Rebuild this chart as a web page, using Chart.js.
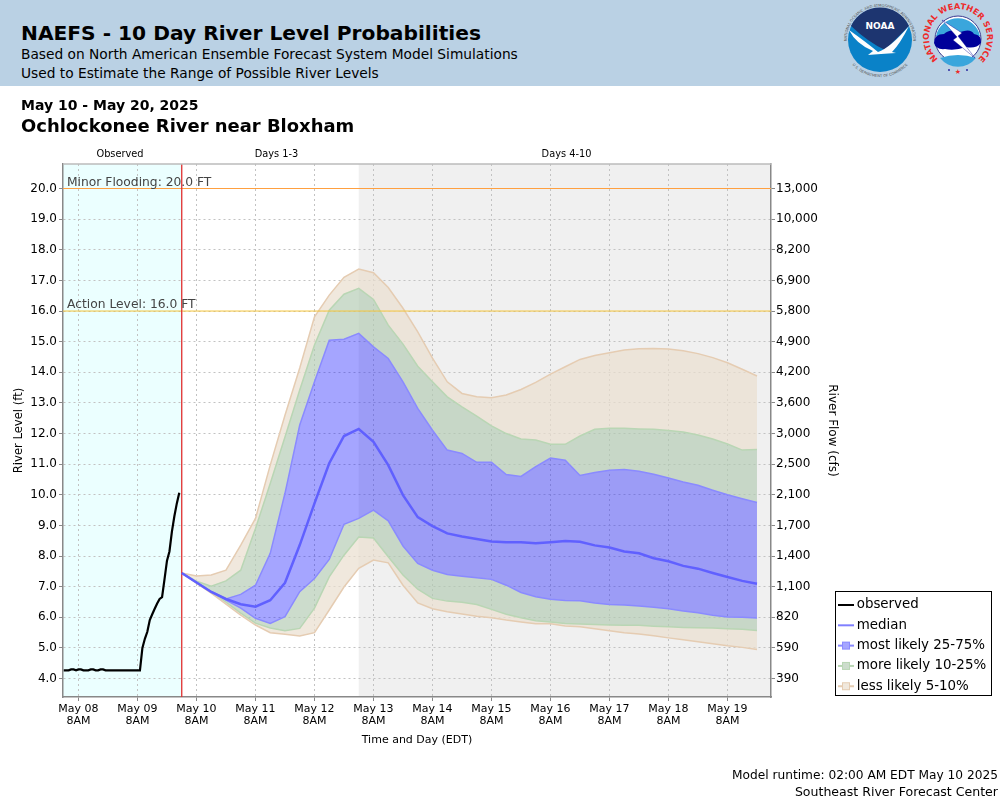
<!DOCTYPE html>
<html>
<head>
<meta charset="utf-8">
<title>NAEFS - 10 Day River Level Probabilities</title>
<script src="https://cdn.jsdelivr.net/npm/chart.js@4/dist/chart.umd.min.js"></script>
<style>
  html, body { margin: 0; padding: 0; background: #fff; }
  body { width: 1000px; height: 800px; position: relative; overflow: hidden; font-family: "DejaVu Sans", sans-serif; color: #000; }
  #band { position: absolute; left: 0; top: 0; width: 1000px; height: 86px; background: #bad1e4; }
  .txt { position: absolute; white-space: nowrap; }
  #logos { position: absolute; left: 0; top: 0; }
  canvas { position: absolute; left: 0; top: 0; }
</style>
</head>
<body>
<canvas id="myChart" width="1000" height="800"></canvas>
<div id="band"></div>
<div class="txt" style="left:21px;top:21px;font-size:20.2px;font-weight:bold;">NAEFS - 10 Day River Level Probabilities</div>
<div class="txt" style="left:21px;top:46px;font-size:13.76px;">Based on North American Ensemble Forecast System Model Simulations</div>
<div class="txt" style="left:21px;top:65px;font-size:13.76px;">Used to Estimate the Range of Possible River Levels</div>
<div class="txt" style="left:21px;top:97px;font-size:14px;font-weight:bold;">May 10 - May 20, 2025</div>
<div class="txt" style="left:21px;top:115px;font-size:17.95px;font-weight:bold;">Ochlockonee River near Bloxham</div>
<div class="txt" style="right:2px;top:768px;font-size:12.2px;">Model runtime: 02:00 AM EDT May 10 2025</div>
<div class="txt" style="right:2px;top:784px;font-size:12.55px;">Southeast River Forecast Center</div>

<svg id="logos" width="1000" height="86" xmlns="http://www.w3.org/2000/svg">
  <defs>
    <path id="noaaRing" d="M 852 58 A 33.3 33.3 0 1 1 908 58"></path>
    <path id="noaaRingLow" d="M 850 62 A 37.2 37.2 0 0 0 910 62"></path>
    <path id="nwsRing" d="M 941.4 61.8 A 29 29 0 1 1 974.6 61.8"></path>
  </defs>
  <circle cx="880" cy="40" r="32" fill="#0a82c8"></circle>
  <path d="M 851 26 A 32 32 0 0 1 909 26 L 885 50 Q 868 42 851 26 Z" fill="#1d3570"></path>
  <path d="M 849 30 Q 866 42 878 52 Q 890 48 909 26 Q 900 44 892 52 L 896 53 Q 880 54 868 55 L 873 51 Q 856 44 849 30 Z" fill="#fdfdfd"></path>
  <text x="880" y="29" text-anchor="middle" font-size="9" font-weight="bold" fill="#fff">NOAA</text>
  <text font-size="3.7" fill="#555" text-anchor="middle"><textPath href="#noaaRing" startOffset="50%">NATIONAL OCEANIC AND ATMOSPHERIC ADMINISTRATION</textPath></text>
  <text font-size="3.7" fill="#555" text-anchor="middle"><textPath href="#noaaRingLow" startOffset="50%">U.S. DEPARTMENT OF COMMERCE</textPath></text>

  <circle cx="958" cy="39" r="23" fill="#fff" stroke="#3a3a90" stroke-width="1"></circle>
  <path d="M 936 36 A 22.5 22.5 0 0 1 980 36 Z" fill="#3aa6dc"></path>
  <path d="M 940 58 A 23 23 0 0 0 976 58 Q 958 52 940 58 Z" fill="#3aa6dc"></path>
  <path d="M 934 43 Q 934 34 944 34 Q 950 28 960 32 Q 971 28 974 34 Q 982 35 981 43 Q 976 49 966 47 Q 955 51 945 49 Q 936 50 934 43 Z" fill="#00009a"></path>
  <path d="M 942 20 L 962 33 L 958 36 L 975 58 L 953 40 L 957 37 Z" fill="#fff" stroke="#00009a" stroke-width=".4"></path>
  <text font-size="8.2" font-weight="bold" fill="#ee2a2a" text-anchor="middle" letter-spacing=".1"><textPath href="#nwsRing" startOffset="50%">NATIONAL WEATHER SERVICE</textPath></text>
  <circle cx="949" cy="70" r="1" fill="#2a2aa0"></circle>
  <circle cx="967" cy="70" r="1" fill="#2a2aa0"></circle>
  <text x="958" y="74" font-size="7" fill="#ee2a2a" text-anchor="middle">&#9733;</text>
</svg>

<script>
// axis ranges, x is hours after May 08 8AM
const xMin = -6.3;
const xMax = 281.7;
const yMin = 3.4;
const yMax = 20.8;

const xTickHours = [0, 24, 48, 72, 96, 120, 144, 168, 192, 216, 240, 264];
const xTickDays = ['May 08', 'May 09', 'May 10', 'May 11', 'May 12', 'May 13', 'May 14', 'May 15', 'May 16', 'May 17', 'May 18', 'May 19'];
const stageTicks = [4, 5, 6, 7, 8, 9, 10, 11, 12, 13, 14, 15, 16, 17, 18, 19, 20];
const flowTicks = ['390', '590', '820', '1,100', '1,400', '1,700', '2,100', '2,500', '3,000', '3,600', '4,200', '4,900', '5,800', '6,900', '8,200', '10,000', '13,000'];

const obsHours = [-6, -5, -4, -3, -2, -1, 0, 1, 2, 3, 4, 5, 6, 7, 8, 9, 10, 11, 12, 13, 14, 15, 16, 17, 18, 19, 20, 21, 22, 23, 24, 25, 26, 27, 28, 29, 30, 31, 32, 33, 34, 35, 36, 37, 38, 39, 40, 41];
const observed = [4.27, 4.27, 4.27, 4.30, 4.30, 4.27, 4.30, 4.30, 4.27, 4.27, 4.27, 4.30, 4.30, 4.27, 4.27, 4.30, 4.30, 4.27, 4.27, 4.27, 4.27, 4.27, 4.27, 4.27, 4.27, 4.27, 4.27, 4.27, 4.27, 4.27, 4.27, 4.27, 5.00, 5.30, 5.53, 5.91, 6.10, 6.28, 6.45, 6.60, 6.66, 7.25, 7.85, 8.15, 8.80, 9.30, 9.72, 10.07];

const fcstHours = [42, 48, 54, 60, 66, 72, 78, 84, 90, 96, 102, 108, 114, 120, 126, 132, 138, 144, 150, 156, 162, 168, 174, 180, 186, 192, 198, 204, 210, 216, 222, 228, 234, 240, 246, 252, 258, 264, 270, 276];
const p05 = [7.45, 7.12, 6.79, 6.43, 6.07, 5.75, 5.50, 5.45, 5.39, 5.50, 6.24, 6.99, 7.60, 7.87, 7.78, 7.05, 6.47, 6.28, 6.18, 6.11, 6.04, 5.99, 5.91, 5.85, 5.79, 5.79, 5.72, 5.69, 5.63, 5.56, 5.50, 5.46, 5.40, 5.33, 5.27, 5.20, 5.14, 5.07, 5.02, 4.95];
const p10 = [7.45, 7.13, 6.82, 6.50, 6.14, 5.81, 5.65, 5.56, 5.64, 6.30, 7.32, 8.03, 8.62, 8.59, 7.98, 7.38, 6.92, 6.62, 6.53, 6.49, 6.42, 6.26, 6.10, 5.99, 5.89, 5.85, 5.80, 5.78, 5.77, 5.75, 5.74, 5.74, 5.71, 5.69, 5.67, 5.66, 5.65, 5.63, 5.61, 5.57];
const p25 = [7.45, 7.14, 6.83, 6.56, 6.30, 5.97, 5.80, 6.02, 6.84, 7.27, 7.89, 9.04, 9.23, 9.50, 9.15, 8.33, 7.76, 7.54, 7.40, 7.34, 7.29, 7.24, 7.05, 6.81, 6.67, 6.59, 6.55, 6.54, 6.47, 6.42, 6.40, 6.37, 6.33, 6.28, 6.21, 6.15, 6.07, 6.01, 6.00, 5.98];
const median = [7.45, 7.14, 6.83, 6.60, 6.43, 6.35, 6.56, 7.13, 8.36, 9.72, 11.03, 11.92, 12.15, 11.73, 10.97, 9.99, 9.27, 8.98, 8.74, 8.64, 8.56, 8.48, 8.45, 8.45, 8.42, 8.45, 8.49, 8.47, 8.35, 8.28, 8.15, 8.09, 7.93, 7.83, 7.68, 7.59, 7.45, 7.32, 7.19, 7.10];
const p75 = [7.45, 7.14, 6.85, 6.60, 6.75, 7.05, 8.09, 10.05, 12.28, 13.69, 15.05, 15.08, 15.27, 14.83, 14.45, 13.69, 12.82, 12.11, 11.46, 11.35, 11.06, 11.06, 10.66, 10.60, 10.92, 11.20, 11.13, 10.63, 10.73, 10.80, 10.83, 10.77, 10.67, 10.55, 10.42, 10.31, 10.15, 10.00, 9.87, 9.75];
const p90 = [7.45, 7.18, 7.02, 7.19, 7.54, 8.90, 10.37, 11.89, 13.42, 14.89, 16.03, 16.55, 16.74, 16.38, 15.54, 14.92, 14.20, 13.69, 13.20, 12.87, 12.57, 12.25, 12.00, 11.82, 11.79, 11.65, 11.65, 11.92, 12.14, 12.17, 12.17, 12.15, 12.14, 12.10, 12.05, 11.95, 11.82, 11.66, 11.46, 11.48];
const p95 = [7.45, 7.35, 7.38, 7.54, 8.36, 9.23, 10.97, 12.60, 14.14, 15.81, 16.52, 17.10, 17.37, 17.25, 16.77, 16.09, 15.32, 14.46, 13.69, 13.31, 13.20, 13.17, 13.26, 13.44, 13.67, 13.94, 14.18, 14.42, 14.55, 14.64, 14.73, 14.77, 14.78, 14.76, 14.70, 14.61, 14.48, 14.31, 14.10, 13.88];

const forecastStartHour = 42;
const days4to10Hour = 114;
const minorFlood = 20;
const actionLevel = 16;

const tanLine = '#e5ccb2', tanFill = 'rgba(234,222,206,0.7)';
const greenLine = '#b9d6b4', greenFill = 'rgba(177,201,177,0.65)';
const blueLine = '#8a8aff', blueFill = 'rgba(30,30,255,0.4)';

function zip(xs, ys){
  return ys.map((y, i) => ({x: xs[i], y: y}));
}

function bandSet(label, values, color, fillColor){
  return {
    label: label,
    data: zip(fcstHours, values),
    borderColor: color,
    borderWidth: 1.5,
    backgroundColor: fillColor || 'transparent',
    fill: fillColor ? '-1' : false,
    pointRadius: 0,
    tension: 0
  };
}

// little line with a square on it, for the legend
function legendSymbol(lineColor, boxFill, boxEdge){
  const c = document.createElement('canvas');
  c.width = 20; c.height = 12;
  const g = c.getContext('2d');
  g.strokeStyle = lineColor;
  g.lineWidth = 2;
  g.beginPath(); g.moveTo(4, 6); g.lineTo(20, 6); g.stroke();
  if(boxFill){
    g.fillStyle = '#fff'; g.fillRect(8, 2, 8, 8);
    g.fillStyle = boxFill; g.fillRect(8, 2, 8, 8);
    g.strokeStyle = boxEdge; g.lineWidth = 1; g.strokeRect(8.5, 2.5, 7, 7);
  }
  return c;
}

const legendItems = [
  {text: 'observed', pointStyle: legendSymbol('#000')},
  {text: 'median', pointStyle: legendSymbol('#8080ff')},
  {text: 'most likely 25-75%', pointStyle: legendSymbol(blueLine, blueFill, blueLine)},
  {text: 'more likely 10-25%', pointStyle: legendSymbol(greenLine, greenFill, greenLine)},
  {text: 'less likely 5-10%', pointStyle: legendSymbol(tanLine, tanFill, tanLine)}
];

const chartDecor = {
  id: 'chartDecor',
  beforeDraw(chart){
    const {ctx, chartArea: a, scales} = chart;
    const xNow = scales.x.getPixelForValue(forecastStartHour);
    const xGrey = scales.x.getPixelForValue(days4to10Hour);
    ctx.save();
    ctx.fillStyle = '#ebffff';
    ctx.fillRect(a.left, a.top, xNow - a.left, a.height);
    ctx.fillStyle = '#f0f0f0';
    ctx.fillRect(xGrey, a.top, a.right - xGrey, a.height);
    ctx.restore();
  },
  afterLayout(chart){
    // legend sits outside the plot, bottom right
    const lg = chart.legend;
    lg.left = 831.1; lg.right = 995;
    lg.top = 591.4; lg.bottom = 705;
  },
  afterDraw(chart){
    const {ctx, chartArea: a, scales} = chart;
    ctx.save();
    ctx.strokeStyle = '#bbb';
    ctx.lineWidth = 1.5;
    ctx.beginPath(); ctx.moveTo(a.left, a.top); ctx.lineTo(a.right, a.top); ctx.stroke();

    ctx.font = '12.3px "DejaVu Sans"';
    ctx.fillStyle = '#444';
    ctx.textAlign = 'left';
    ctx.textBaseline = 'alphabetic';
    ctx.fillText('Minor Flooding: 20.0 FT', 67, scales.y.getPixelForValue(minorFlood) - 3);
    ctx.fillText('Action Level: 16.0 FT', 67, scales.y.getPixelForValue(actionLevel) - 3);

    ctx.font = '9.8px "DejaVu Sans"';
    ctx.fillStyle = '#000';
    ctx.textAlign = 'center';
    ctx.fillText('Observed', 120, 157);
    ctx.fillText('Days 1-3', 276.5, 157);
    ctx.fillText('Days 4-10', 566.5, 157);

    ctx.strokeStyle = '#000';
    ctx.lineWidth = 1;
    ctx.strokeRect(835.5, 591.5, 156, 104);
    ctx.restore();
  }
};

const ctx = document.getElementById('myChart').getContext('2d');
const riverChart = new Chart(ctx, {
  type: 'line',
  data: {
    datasets: [
      {label: 'observed', data: zip(obsHours, observed), borderColor: '#000', borderWidth: 2.2, pointRadius: 0, tension: 0},
      {label: 'median', data: zip(fcstHours, median), borderColor: '#6060ff', borderWidth: 2.5, pointRadius: 0, tension: 0},
      {label: 'now', data: zip([forecastStartHour, forecastStartHour], [yMin, yMax]), borderColor: '#e03030', borderWidth: 1.3, pointRadius: 0},
      {label: 'minor', data: zip([xMin, xMax], [minorFlood, minorFlood]), borderColor: '#ffa040', borderWidth: 1, pointRadius: 0},
      {label: 'action', data: zip([xMin, xMax], [actionLevel, actionLevel]), borderColor: '#f5c63c', borderWidth: 1, pointRadius: 0},
      bandSet('p05', p05, tanLine),
      bandSet('p10', p10, greenLine, tanFill),
      bandSet('p25', p25, blueLine, greenFill),
      bandSet('p75', p75, blueLine, blueFill),
      bandSet('p90', p90, greenLine, greenFill),
      bandSet('p95', p95, tanLine, tanFill)
    ]
  },
  options: {
    responsive: false,
    animation: false,
    devicePixelRatio: 1,
    layout: {padding: {left: 0, top: 164, right: 157, bottom: 49}},
    font: {family: '"DejaVu Sans"'},
    plugins: {
      tooltip: {enabled: false},
      title: {display: false},
      legend: {
        position: 'chartArea',
        align: 'start',
        labels: {
          usePointStyle: true,
          pointStyleWidth: 12,
          padding: 6.9,
          color: '#000',
          font: {family: '"DejaVu Sans"', size: 13.4},
          generateLabels: () => legendItems.map(it => ({text: it.text, pointStyle: it.pointStyle, fontColor: '#000', lineWidth: 0, hidden: false}))
        }
      }
    },
    scales: {
      x: {
        type: 'linear',
        min: xMin,
        max: xMax,
        afterFit: s => { s.height = 54; },
        afterBuildTicks: s => { s.ticks = xTickHours.map(v => ({value: v})); },
        ticks: {
          autoSkip: false,
          maxRotation: 0,
          padding: 2,
          color: '#000',
          font: {family: '"DejaVu Sans"', size: 11, lineHeight: 1.1},
          callback: v => [xTickDays[xTickHours.indexOf(v)], '8AM']
        },
        grid: {color: '#c2c2c2', tickColor: '#888', tickLength: 4, tickBorderDash: [], lineWidth: 1},
        border: {color: '#888', width: 1.5, dash: [2, 3]},
        title: {display: true, text: 'Time and Day (EDT)', color: '#000', font: {family: '"DejaVu Sans"', size: 11}, padding: {top: 4, bottom: 4}}
      },
      y: {
        position: 'left',
        min: yMin,
        max: yMax,
        afterFit: s => { s.width = 63; },
        afterBuildTicks: s => { s.ticks = stageTicks.map(v => ({value: v})); },
        ticks: {
          autoSkip: false,
          padding: 2,
          color: '#000',
          font: {family: '"DejaVu Sans"', size: 12},
          callback: v => v.toFixed(1)
        },
        grid: {color: '#c2c2c2', tickColor: '#888', tickLength: 4, tickBorderDash: [], lineWidth: 1},
        border: {color: '#888', width: 1.5, dash: [2, 3]},
        title: {display: true, text: 'River Level (ft)', color: '#000', font: {family: '"DejaVu Sans"', size: 11.6}, padding: {top: 12.2, bottom: 4}}
      },
      y2: {
        position: 'right',
        min: yMin,
        max: yMax,
        afterFit: s => { s.width = 72; },
        afterBuildTicks: s => { s.ticks = stageTicks.map(v => ({value: v})); },
        ticks: {
          autoSkip: false,
          padding: 1,
          color: '#000',
          font: {family: '"DejaVu Sans"', size: 12},
          callback: v => flowTicks[stageTicks.indexOf(v)]
        },
        grid: {drawOnChartArea: false, tickColor: '#888', tickLength: 4},
        border: {color: '#888', width: 1.5},
        title: {display: true, text: 'River Flow (cfs)', color: '#000', font: {family: '"DejaVu Sans"', size: 12}, padding: {top: 4, bottom: 4}}
      }
    }
  },
  plugins: [chartDecor]
});
</script>
</body>
</html>
